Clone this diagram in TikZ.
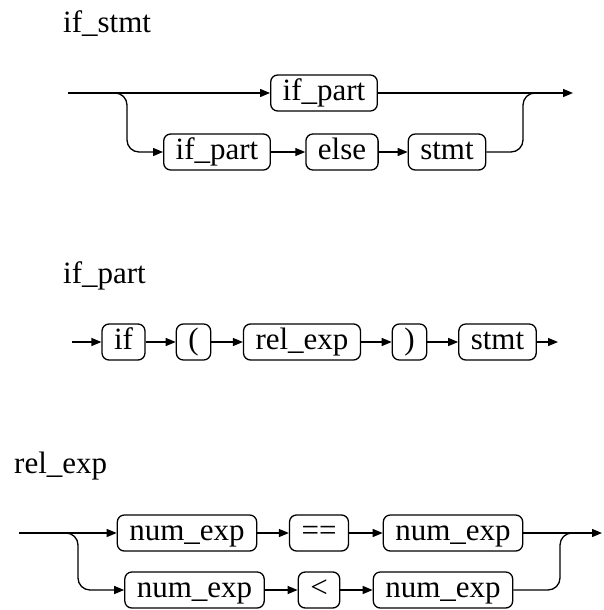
\documentclass[tikz,border=0pt]{standalone}
\usepackage{fontspec}
\setmainfont{Liberation Serif}
\usetikzlibrary{arrows.meta}

\begin{document}
\begin{tikzpicture}[x=1pt,y=-1pt,
		term_node/.style={draw,rounded corners=7pt,line width=1.3pt,inner xsep=12pt,inner ysep=3.5pt,
			text height=21.5pt,text depth=7pt,minimum height=36pt},
		title_node/.style={anchor=base west,inner sep=0pt},
		flow/.style={line width=1.3pt,-{Triangle[length=10pt,width=8pt]}},
		branch_line/.style={line width=1.3pt,rounded corners=12pt},
		font=\fontsize{31}{36}\selectfont]
		
		\useasboundingbox (0,0) rectangle (603,610);
		
		% if_stmt
		\node[title_node] (t1) at (63,33) {if\_stmt};
		\node[term_node] (ip1) at (324,93) {if\_part};
		\node[term_node] (ip2) at (217,152) {if\_part};
		\node[term_node] (el) at (342,152) {else};
		\node[term_node] (st1) at (447,152) {stmt};
		\coordinate (in1) at (68,93);
		\coordinate (out1) at (573,93);
		\coordinate (split1) at (100,93);
		\coordinate (drop1) at (127,152);
		\coordinate (rise1) at (523,93);
		\coordinate (join1) at (548,93);
		
		\draw[flow] (in1) -- (ip1);
		\draw[flow] (ip1) -- (out1);
		\draw[flow,branch_line] (split1) -| (drop1) -- (ip2);
		\draw[flow] (ip2) -- (el);
		\draw[flow] (el) -- (st1);
		\draw[branch_line] (st1) -| (rise1) -- (join1);
		
		% if_part
		\node[title_node] (t2) at (63,283) {if\_part};
		\node[term_node] (if) at (123.5,342) {if};
		\node[term_node] (lp) at (193.5,342) {(};
		\node[term_node] (re) at (302,342) {rel\_exp};
		\node[term_node] (rp) at (409.5,342) {)};
		\node[term_node] (st2) at (497.5,342) {stmt};
		\coordinate (in2) at (72,342);
		\coordinate (out2) at (558,342);
		
		\draw[flow] (in2) -- (if);
		\draw[flow] (if) -- (lp);
		\draw[flow] (lp) -- (re);
		\draw[flow] (re) -- (rp);
		\draw[flow] (rp) -- (st2);
		\draw[flow] (st2) -- (out2);
		
		% rel_exp
		\node[title_node] (t3) at (14,473) {rel\_exp};
		\node[term_node] (ne1) at (187,533) {num\_exp};
		\node[term_node] (eq) at (319,533) {==};
		\node[term_node] (ne2) at (453,533) {num\_exp};
		\node[term_node] (ne3) at (194.5,590) {num\_exp};
		\node[term_node] (lt) at (319,590) {<};
		\node[term_node] (ne4) at (443,590) {num\_exp};
		\coordinate (in3) at (19,533);
		\coordinate (out3) at (602,533);
		\coordinate (split3) at (56,533);
		\coordinate (drop3) at (78,590);
		\coordinate (rise3) at (560,533);
		\coordinate (join3) at (585,533);
		
		\draw[flow] (in3) -- (ne1);
		\draw[flow] (ne1) -- (eq);
		\draw[flow] (eq) -- (ne2);
		\draw[flow] (ne2) -- (out3);
		\draw[flow,branch_line] (split3) -| (drop3) -- (ne3);
		\draw[flow] (ne3) -- (lt);
		\draw[flow] (lt) -- (ne4);
		\draw[branch_line] (ne4) -| (rise3) -- (join3);
	\end{tikzpicture}
\end{document}
